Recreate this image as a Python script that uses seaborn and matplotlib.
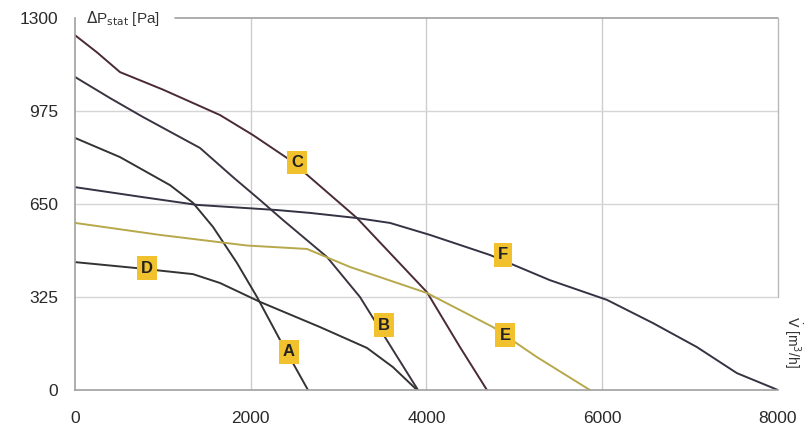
import seaborn as sns
import pandas as pd
import matplotlib.pyplot as plt

# fan curves
a_x = [0, 512, 1081, 1343, 1570, 1843, 2071, 2333, 2651]
a_y = [881, 814, 716, 654, 570, 444, 325, 175, 0]
b_x = [0, 400, 774, 1422, 1798, 2105, 2367, 2867, 3243, 3618, 3903]
b_y = [1094, 1020, 954, 846, 744, 664, 594, 465, 325, 140, 0]
c_x = [0, 250, 512, 1000, 1650, 2025, 2446, 2935, 3209, 4005, 4381, 4688]
c_y = [1240, 1180, 1111, 1050, 961, 891, 804, 674, 601, 342, 150, 0]
d_x = [0, 705, 1343, 1650, 2105, 2788, 3323, 3618, 3892]
d_y = [447, 426, 405, 374, 308, 220, 147, 80, 0]
e_x = [0, 967, 1957, 2640, 3129, 4005, 4756, 5257, 5860]
e_y = [584, 542, 505, 493, 430, 339, 220, 115, 0]
f_x = [0, 774, 1388, 2298, 2674, 3209, 3584, 4040, 4722, 5404, 6054, 6577, 7078, 7533, 8000]
f_y = [709, 674, 647, 629, 619, 601, 584, 542, 472, 384, 315, 234, 150, 59, 0]

names = ["A", "B", "C", "D", "E", "F"]
# where the letter tags sit
tag_x = [2435, 3516, 2525, 819, 4893, 4870]
tag_y = [133, 227, 795, 426, 192, 472]

xticks = [0, 2000, 4000, 6000, 8000]
yticks = [0, 325, 650, 975, 1300]

curves = {"A": (a_x, a_y), "B": (b_x, b_y), "C": (c_x, c_y),
          "D": (d_x, d_y), "E": (e_x, e_y), "F": (f_x, f_y)}
rows = []
for k, (xs, ys) in curves.items():
    for i, (x, y) in enumerate(zip(xs, ys)):
        rows.append({"curve": k, "order": i, "flow": x, "dp": y})
df = pd.DataFrame(rows)

sns.set_style("white")
plt.rcParams['font.family'] = ['Liberation Sans', 'DejaVu Sans']

fig = plt.figure(figsize=(8.07, 4.30), dpi=100)
ax = fig.add_axes([0.093, 0.093, 0.871, 0.865])

pal = {"A": "#333333", "B": "#3b3340", "C": "#4a2a34", "D": "#333333",
       "E": "#b7a84a", "F": "#333344"}
sns.lineplot(data=df, x="flow", y="dp", hue="curve", units="curve", estimator=None,
             sort=False, palette=pal, linewidth=1.4, legend=False, ax=ax)

ax.set_xlim(0, 8000)
ax.set_ylim(0, 1300)
ax.set_xticks(xticks)
ax.set_yticks(yticks)
ax.tick_params(length=0, labelsize=12.5, labelcolor="#2a2a2a")
ax.tick_params(axis="x", pad=15)
ax.tick_params(axis="y", pad=12)
ax.set_xlabel("")
ax.set_ylabel("")

for v in xticks[1:-1]:
    ax.axvline(v, color="#cdcdcd", lw=1.0, zorder=0)
for v in yticks[1:-1]:
    ax.axhline(v, color="#d5d5d5", lw=1.0, zorder=0)

for s in ["top", "right"]:
    ax.spines[s].set_visible(False)
for s in ["left", "bottom"]:
    ax.spines[s].set_color("#a0a0a0")
    ax.spines[s].set_linewidth(1.2)
ax.axhline(1300, xmin=0.142, color="#a0a0a0", lw=1.2, clip_on=False)
ax.axvline(8000, ymin=0.25, color="#b8b8b8", lw=1.0, clip_on=False)

ax.text(0.015, 1.0, r"$\Delta$P$_{\rm stat}$ [Pa]", transform=ax.transAxes,
        ha="left", va="center", fontsize=11, color="#333333")
ax.text(1.006, 0.13, r"$\dot{\rm V}$ [m$^3$/h]", transform=ax.transAxes,
        ha="left", va="center", rotation=-90, fontsize=10, color="#333333")

for n, x, y in zip(names, tag_x, tag_y):
    ax.text(x, y, n, ha="center", va="center", fontsize=12, fontweight="bold",
            color="#222222",
            bbox=dict(boxstyle="square,pad=0.25", fc="#f2c12e", ec="none"))

fig.savefig("out.png", dpi=100)
